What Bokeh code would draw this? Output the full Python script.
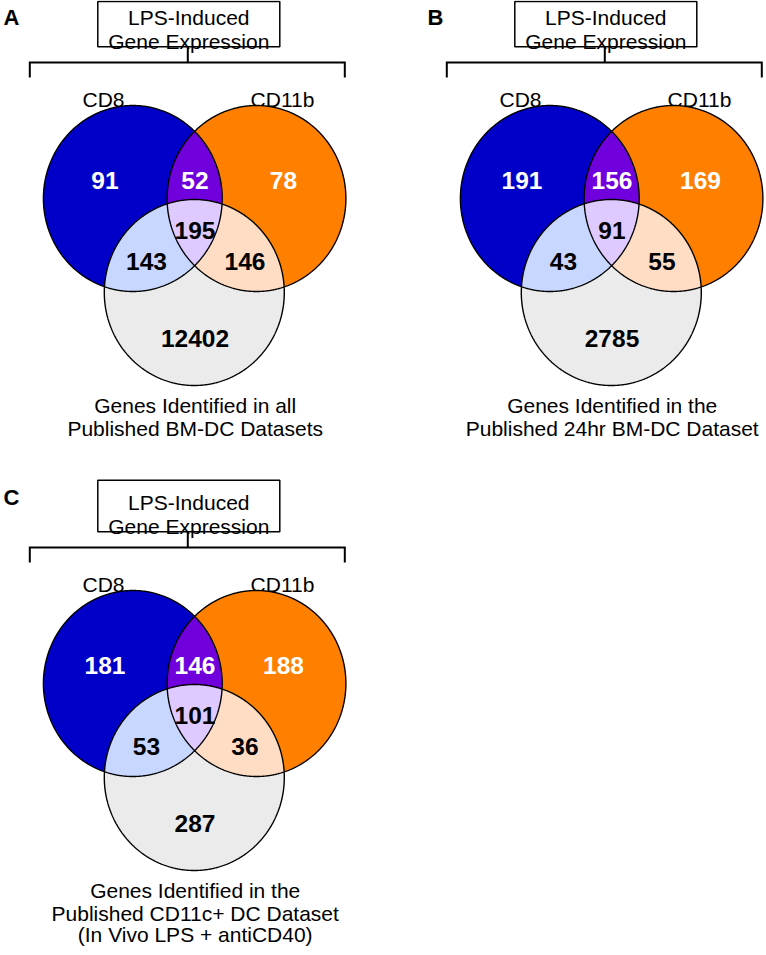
import numpy as np
from bokeh.plotting import figure
from bokeh.models import Range1d, ColumnDataSource
from bokeh.embed import file_html
from bokeh.resources import INLINE
from bokeh.core.properties import value

# ---------------- data ----------------
panel_letters = ["A", "B", "C"]
header_lines = ["LPS-Induced", "Gene Expression"]
set_names = ["CD8", "CD11b"]
region_names = ["CD8 only", "CD8 & CD11b", "CD11b only", "all three",
                "CD8 & dataset", "CD11b & dataset", "dataset only"]
counts_A = [91, 52, 78, 195, 143, 146, 12402]
counts_B = [191, 156, 169, 91, 43, 55, 2785]
counts_C = [181, 146, 188, 101, 53, 36, 287]
dataset_label_A = ["Genes Identified in all", "Published BM-DC Datasets"]
dataset_label_B = ["Genes Identified in the", "Published 24hr BM-DC Dataset"]
dataset_label_C = ["Genes Identified in the", "Published CD11c+ DC Dataset",
                   "(In Vivo LPS + antiCD40)"]

panels = [
    (panel_letters[0], counts_A, dataset_label_A),
    (panel_letters[1], counts_B, dataset_label_B),
    (panel_letters[2], counts_C, dataset_label_C),
]

# ---------------- layout / style ----------------
FONT = value("Liberation Sans")
ORIGINS = [(0, 0), (417, 0), (0, 485)]
LETTER_X = [3, 10, 3]
TOP_CLAMP = 9.0   # page top margin: nothing can be drawn above this
ELL = {  # local centre x, centre y, rx, ry
    "blue": (132.3, 206.0, 89.4, 93.0),
    "orange": (256.0, 206.0, 89.4, 93.0),
    "gray": (193.8, 300.0, 90.0, 93.0),
}
COL = {
    "blue": "#0000C8", "orange": "#FF8000", "gray": "#EBEBEB",
    "purple": "#7000DC", "lblue": "#C8D7FF", "lorange": "#FFDCC4",
    "lav": "#DECAFF",
}
LABEL_POS = [(104.5, 188), (194.5, 188), (283, 188), (194.5, 238),
             (146, 269), (244.5, 269), (194.5, 345.5)]
LABEL_COL = ["white", "white", "white", "black", "black", "black", "black"]
DLABEL_Y = [413.3, 436.0, 456.5]


def ell_pts(e, ox, oy, n=720):
    cx, cy, rx, ry = e
    t = np.linspace(0, 2 * np.pi, n, endpoint=False)
    return ox + cx + rx * np.cos(t), oy + cy + ry * np.sin(t)


def inside(e, ox, oy, x, y):
    cx, cy, rx, ry = e
    return ((x - ox - cx) / rx) ** 2 + ((y - oy - cy) / ry) ** 2 <= 1.0 + 1e-9


def intersection(keys, ox, oy, n=3000):
    xs, ys = [], []
    for k in keys:
        x, y = ell_pts(ELL[k], ox, oy, n)
        m = np.ones_like(x, dtype=bool)
        for k2 in keys:
            if k2 != k:
                m &= inside(ELL[k2], ox, oy, x, y)
        xs.append(x[m]); ys.append(y[m])
    x = np.concatenate(xs); y = np.concatenate(ys)
    mx, my = x.mean(), y.mean()
    order = np.argsort(np.arctan2(y - my, x - mx))
    return list(x[order]), list(y[order])


p = figure(width=766, height=947, x_range=Range1d(0, 766), y_range=Range1d(955, 8),
           output_backend="svg", toolbar_location=None, min_border=0,
           x_axis_type=None, y_axis_type=None)
p.grid.visible = False
p.outline_line_color = None
p.background_fill_color = "white"

for i, (letter, counts, dlabel) in enumerate(panels):
    ox, oy = ORIGINS[i]
    # panel letter
    p.text(x=[ox + LETTER_X[i]], y=[max(oy + 20, TOP_CLAMP + 16)], text=[letter], text_font=FONT,
           text_font_size="22px", text_font_style="bold", text_align="left",
           text_baseline="alphabetic", text_color="black")
    # header box
    p.quad(left=[ox + 97.3], right=[ox + 279.3], top=[max(oy + 2.7, TOP_CLAMP)],
           bottom=[oy + 54.3], fill_color="white", line_color="black", line_width=1.5)
    p.text(x=[ox + 188.3, ox + 188.3], y=[oy + 25, oy + 48.8], text=header_lines,
           text_font=FONT, text_font_size="21px", text_align="center",
           text_baseline="alphabetic", text_color="black")
    # stem + bracket
    p.line(x=[ox + 187.3, ox + 187.3], y=[oy + 54.3, oy + 70], line_color="black", line_width=2)
    p.line(x=[ox + 29.3, ox + 29.3, ox + 344.3, ox + 344.3],
           y=[oy + 85, oy + 70, oy + 70, oy + 85], line_color="black", line_width=2,
           line_join="miter")
    # set names
    p.text(x=[ox + 103, ox + 282], y=[oy + 106.7, oy + 106.7], text=set_names,
           text_font=FONT, text_font_size="21px", text_align="center",
           text_baseline="alphabetic", text_color="black")
    # venn regions (painter's order)
    for k in ["blue", "orange"]:
        x, y = ell_pts(ELL[k], ox, oy)
        p.patch(x=list(x), y=list(y), fill_color=COL[k], line_color=None)
    x, y = intersection(["blue", "orange"], ox, oy)
    p.patch(x=x, y=y, fill_color=COL["purple"], line_color=None)
    x, y = ell_pts(ELL["gray"], ox, oy)
    p.patch(x=list(x), y=list(y), fill_color=COL["gray"], line_color=None)
    x, y = intersection(["blue", "gray"], ox, oy)
    p.patch(x=x, y=y, fill_color=COL["lblue"], line_color=None)
    x, y = intersection(["orange", "gray"], ox, oy)
    p.patch(x=x, y=y, fill_color=COL["lorange"], line_color=None)
    x, y = intersection(["blue", "orange", "gray"], ox, oy)
    p.patch(x=x, y=y, fill_color=COL["lav"], line_color=None)
    for k in ["blue", "orange", "gray"]:
        x, y = ell_pts(ELL[k], ox, oy)
        p.patch(x=list(x) + [x[0]], y=list(y) + [y[0]], fill_color=None,
                line_color="black", line_width=1.4)
    # counts
    src = ColumnDataSource(dict(
        x=[ox + lx for lx, _ in LABEL_POS],
        y=[oy + ly for _, ly in LABEL_POS],
        t=[str(c) for c in counts],
        c=LABEL_COL,
        name=region_names,
    ))
    p.text(x="x", y="y", text="t", text_color="c", source=src, text_font=FONT,
           text_font_size="24.5px", text_font_style="bold", text_align="center",
           text_baseline="alphabetic")
    # dataset label
    ys = DLABEL_Y[:len(dlabel)]
    p.text(x=[ox + 194.7] * len(dlabel), y=[oy + yy for yy in ys], text=dlabel,
           text_font=FONT, text_font_size="21px", text_align="center",
           text_baseline="alphabetic", text_color="black")

open("out.html", "w").write(file_html(p, INLINE))
